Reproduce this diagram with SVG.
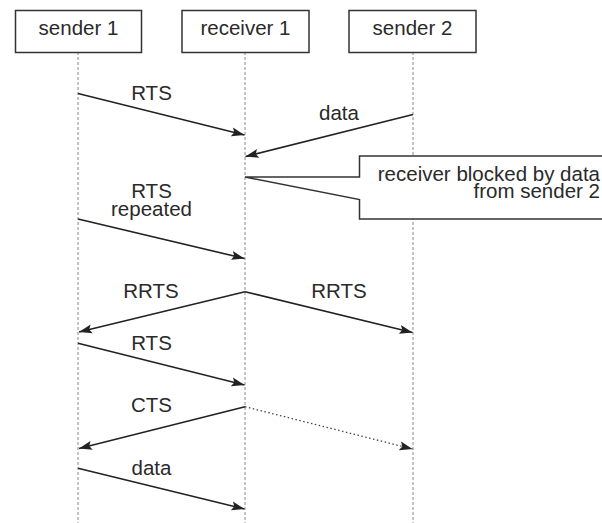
<svg xmlns="http://www.w3.org/2000/svg" width="602" height="523" viewBox="0 0 602 523">
  <style>
    .box { fill: #ffffff; stroke: #333333; stroke-width: 1.5; }
    .life { stroke: #8a8a8a; stroke-width: 1; stroke-dasharray: 3 2; fill: none; }
    .msg { stroke: #222222; stroke-width: 1.6; fill: none; marker-end: url(#head); }
    .dot { stroke: #444444; stroke-width: 1.3; stroke-dasharray: 1.5 2.5; fill: none; marker-end: url(#head); }
    text { font-family: "Liberation Sans", Arial, Helvetica, sans-serif; font-size: 20.5px; fill: #2a2a2a; }
    .c { text-anchor: middle; }
    .e { text-anchor: end; }
  </style>
  <defs>
    <marker id="head" markerUnits="userSpaceOnUse" markerWidth="14" markerHeight="10" refX="13" refY="5" orient="auto">
      <path d="M0 0.5 L13 5 L0 9.5 L2.5 5 Z" fill="#222222"/>
    </marker>
  </defs>

  <!-- lifelines -->
  <g id="lifelines">
    <line class="life" x1="78" y1="52" x2="78" y2="523"/>
    <line class="life" x1="245" y1="52" x2="245" y2="523"/>
    <line class="life" x1="413" y1="52" x2="413" y2="523"/>
  </g>

  <!-- participants -->
  <g id="sender1">
    <rect class="box" x="15.5" y="10.5" width="126" height="42"/>
    <text class="c" x="78.5" y="35">sender 1</text>
  </g>
  <g id="receiver1">
    <rect class="box" x="182" y="10.5" width="127" height="42"/>
    <text class="c" x="245.5" y="35">receiver 1</text>
  </g>
  <g id="sender2">
    <rect class="box" x="349" y="10.5" width="127" height="42"/>
    <text class="c" x="412.5" y="35">sender 2</text>
  </g>

  <!-- messages -->
  <g id="connectors">
    <path class="msg" d="M78 93.5 L244.5 135"/>
    <path class="msg" d="M413 114.5 L245.5 156.5"/>
    <path class="msg" d="M78 219 L244.5 258.5"/>
    <path class="msg" d="M245 291.7 L79 332"/>
    <path class="msg" d="M245 291.7 L412.5 332.5"/>
    <path class="msg" d="M78 343.3 L244.5 385"/>
    <path class="msg" d="M245 406.7 L79 448.5"/>
    <path class="dot" d="M245 406.7 L412.5 449"/>
    <path class="msg" d="M78 468.3 L244.5 509"/>
  </g>

  <!-- message labels -->
  <g id="labels">
    <text class="c" x="151.5" y="100">RTS</text>
    <text class="c" x="339" y="120">data</text>
    <text class="c" x="151.5" y="198">RTS</text>
    <text class="c" x="151.5" y="215.5">repeated</text>
    <text class="c" x="151" y="298">RRTS</text>
    <text class="c" x="339" y="298">RRTS</text>
    <text class="c" x="151.5" y="350">RTS</text>
    <text class="c" x="151.5" y="411.5">CTS</text>
    <text class="c" x="151.5" y="475">data</text>
  </g>

  <!-- note attached to receiver 1 -->
  <g id="note">
    <path class="box" d="M245 177 L359.5 177 L359.5 156 L612 156 L612 219 L359.5 219 L359.5 199.5 Z"/>
    <text class="e" x="600" y="181">receiver blocked by data</text>
    <text class="e" x="600" y="197.5">from sender 2</text>
  </g>
</svg>
